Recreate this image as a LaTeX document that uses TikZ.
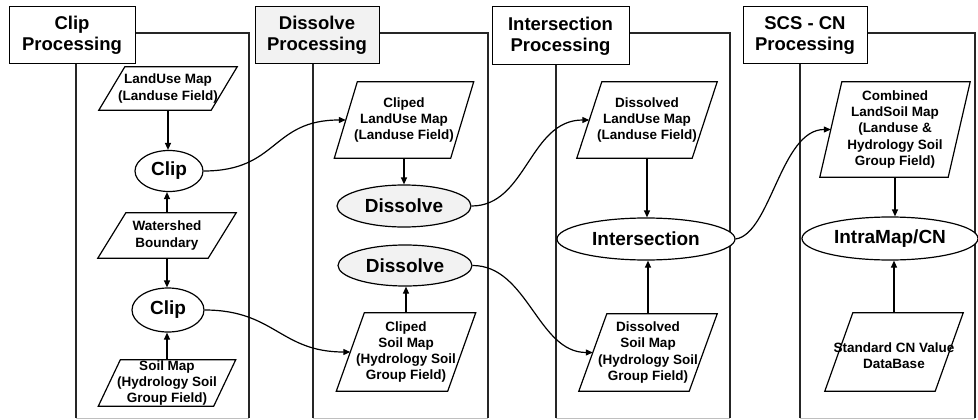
\documentclass[tikz,border=0pt]{standalone}
\usepackage{fontspec}
\setmainfont{Liberation Sans}
\usetikzlibrary{shapes.geometric,arrows.meta}
\newcommand\drawpara[2]{\draw[pline] ([xshift=-#2pt]#1.south west) -- ([xshift=-#2pt]#1.south east) -- ([xshift=#2pt]#1.north east) -- ([xshift=#2pt]#1.north west) -- cycle;}
\begin{document}
\begin{tikzpicture}[x=1pt,y=-1pt,
  frame/.style={line width=1.7pt, draw=black!85},
  titlebox/.style={draw, line width=1pt, fill=white, font=\fontsize{18.5}{21}\selectfont\bfseries, align=center, inner sep=0pt},
  pbox/.style={draw=none, inner sep=0pt},
  ptext/.style={draw=none, inner sep=0pt, font=\fontsize{13.5}{16.3}\selectfont\bfseries, align=center},
  proc/.style={ellipse, draw, line width=1.2pt, fill=white, inner sep=0pt, font=\fontsize{19}{21}\selectfont\bfseries},
  pline/.style={line width=1.2pt},
  flow/.style={line width=1.2pt, -{Triangle[length=7pt,width=6pt]}},
  speck/.style={fill=gray!10}
]
\useasboundingbox (0,0) rectangle (978,420);
% column frames
\foreach \l/\r in {76/249, 313/488, 556/730, 800/975} {
  \draw[frame] (\l,418) -- (\l,33) -- (\r,33) -- (\r,418);
  \draw[line width=0.6pt, draw=gray!50] (\l,418) -- (\r,418);
}
% titles
\node[titlebox, minimum width=126, minimum height=57] (t1) at (72,35.5) {Clip\\Processing};
\node[titlebox, speck, minimum width=124, minimum height=57] (t2) at (317,35.5) {Dissolve\\Processing};
\node[titlebox, minimum width=137, minimum height=58] (t3) at (560.5,36) {Intersection\\Processing};
\node[titlebox, minimum width=124, minimum height=57] (t4) at (805,35.5) {SCS - CN\\Processing};

% column 1
\node[pbox, minimum width=112, minimum height=43] (lu) at (168,88.5) {};
\node[ptext] (lut) at (lu) {LandUse Map\\(Landuse Field)};
\node[proc, minimum width=68, minimum height=41] (clip1) at (169,171) {Clip};
\node[pbox, minimum width=110, minimum height=45] (ws) at (167,235.5) {};
\node[ptext] (wst) at (ws) {Watershed\\Boundary};
\node[proc, minimum width=72, minimum height=44] (clip2) at (168,310) {Clip};
\node[pbox, minimum width=115, minimum height=46] (soil) at (167,383) {};
\node[ptext] (soilt) at (soil) {Soil Map\\(Hydrology Soil\\Group Field)};

% column 2
\node[pbox, minimum width=116, minimum height=76] (clu) at (404,120) {};
\node[ptext] (clut) at (clu) {Cliped\\LandUse Map\\(Landuse Field)};
\node[proc, speck, minimum width=134, minimum height=42] (dis1) at (404,206) {Dissolve};
\node[proc, speck, minimum width=134, minimum height=41] (dis2) at (405,265.5) {Dissolve};
\node[pbox, minimum width=111, minimum height=78] (csoil) at (406,352) {};
\node[ptext] (csoilt) at (csoil) {Cliped\\Soil Map\\(Hydrology Soil\\Group Field)};

% column 3
\node[pbox, minimum width=115, minimum height=76] (dlu) at (647,120) {};
\node[ptext] (dlut) at (dlu) {Dissolved\\LandUse Map\\(Landuse Field)};
\node[proc, minimum width=178, minimum height=42] (inter) at (646,239) {Intersection};
\node[pbox, minimum width=110, minimum height=77] (dsoil) at (648,352.5) {};
\node[ptext] (dsoilt) at (dsoil) {Dissolved\\Soil Map\\(Hydrology Soil\\Group Field)};

% column 4
\node[pbox, minimum width=128, minimum height=95] (comb) at (895,129.5) {};
\node[ptext] (combt) at (comb) {Combined\\LandSoil Map\\(Landuse \&\\Hydrology Soil\\Group Field)};
\node[proc, minimum width=176, minimum height=43] (intra) at (890,238.5) {IntraMap/CN};
\node[pbox, minimum width=110, minimum height=78] (std) at (894,352) {};
\node[ptext] (stdt) at ([yshift=-4pt]std.center) {Standard CN Value\\DataBase};

% parallelogram outlines
\drawpara{lu}{13}
\drawpara{ws}{14}
\drawpara{soil}{11}
\drawpara{clu}{11.5}
\drawpara{csoil}{14}
\drawpara{dlu}{12.5}
\drawpara{dsoil}{14}
\drawpara{comb}{11}
\drawpara{std}{14}

% vertical flows
\draw[flow] (lu.south) -- (lu.south |- clip1.north);
\draw[flow] (ws.north) -- (ws.north |- clip1.south);
\draw[flow] (ws.south) -- (ws.south |- clip2.north);
\draw[flow] (soil.north) -- (soil.north |- clip2.south);
\draw[flow] (clu.south) -- (clu.south |- dis1.north);
\draw[flow] (csoil.north) -- (csoil.north |- dis2.south);
\draw[flow] (dlu.south) -- (dlu.south |- inter.north);
\draw[flow] (dsoil.north) -- (dsoil.north |- inter.south);
\draw[flow] (comb.south) -- (comb.south |- intra.north);
\draw[flow] (std.north) -- (std.north |- intra.south);

% cross-column flows
\draw[flow] (clip1.east) .. controls +(75,0) and +(-75,0) .. (clu.west);
\draw[flow] (clip2.east) .. controls +(70,0) and +(-70,0) .. (csoil.west);
\draw[flow] (dis1.east) .. controls +(55,0) and +(-60,0) .. (dlu.west);
\draw[flow] (dis2.east) .. controls +(55,0) and +(-55,0) .. (dsoil.west);
\draw[flow] (inter.east) .. controls +(35,-5) and +(-50,0) .. (comb.west);
\end{tikzpicture}
\end{document}
